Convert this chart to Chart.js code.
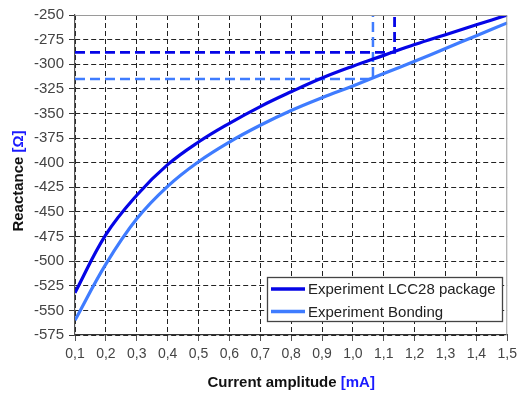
<!DOCTYPE html>
<html>
<head>
<meta charset="utf-8">
<script src="https://cdn.jsdelivr.net/npm/chart.js@4"></script>
<style>
  html, body { margin: 0; padding: 0; background: #fff; }
  #wrap { width: 522px; height: 394px; position: relative; }
</style>
</head>
<body>
<div id="wrap"><canvas id="chart" width="522" height="394"></canvas></div>
<script>
// data
const current = [0.1, 0.2, 0.3, 0.4, 0.5, 0.6, 0.7, 0.8, 0.9, 1.0, 1.1, 1.2, 1.3, 1.4, 1.5];
const lccPackage = [-532, -473, -433, -402, -379, -360, -343, -328, -314, -302, -291, -280, -270, -260, -250];
const bonding = [-560, -503, -457, -424, -399, -379, -362, -347, -334, -322, -309.5, -297, -284, -271, -258];

// marker lines (current, reactance)
const lccMarkX = 1.135, lccMarkY = -288;
const bondMarkX = 1.065, bondMarkY = -315;

const xTicks = [0.1, 0.2, 0.3, 0.4, 0.5, 0.6, 0.7, 0.8, 0.9, 1.0, 1.1, 1.2, 1.3, 1.4, 1.5];
const yTicks = [-250, -275, -300, -325, -350, -375, -400, -425, -450, -475, -500, -525, -550, -575];

const seriesNames = ['Experiment LCC28 package', 'Experiment Bonding'];
const darkBlue = '#0505e6';
const lightBlue = '#3f7cff';
const fontFam = '"Liberation Sans", Arial, sans-serif';

const pts = (xs, ys) => xs.map((x, i) => ({ x: x, y: ys[i] }));

const axisTitles = {
  id: 'axisTitles',
  afterDraw(chart) {
    const ctx = chart.ctx;
    const a = chart.chartArea;
    ctx.save();
    // frame top/right
    ctx.strokeStyle = '#9a9a9a';
    ctx.lineWidth = 1;
    ctx.beginPath();
    ctx.moveTo(a.left, a.top + 0.5);
    ctx.lineTo(a.right - 0.5, a.top + 0.5);
    ctx.lineTo(a.right - 0.5, a.bottom);
    ctx.stroke();

    // x title
    ctx.font = 'bold 15px ' + fontFam;
    ctx.textBaseline = 'middle';
    const p1 = 'Current amplitude ', p2 = '[mA]';
    const w1 = ctx.measureText(p1).width, w2 = ctx.measureText(p2).width;
    let x0 = (a.left + a.right) / 2 - (w1 + w2) / 2;
    ctx.fillStyle = '#111';
    ctx.fillText(p1, x0, 383);
    ctx.fillStyle = '#1a1aff';
    ctx.fillText(p2, x0 + w1, 383);

    // y title
    ctx.translate(19, 181);
    ctx.rotate(-Math.PI / 2);
    const q1 = 'Reactance ', q2 = '[Ω]';
    const v1 = ctx.measureText(q1).width, v2 = ctx.measureText(q2).width;
    const y0 = -(v1 + v2) / 2;
    ctx.fillStyle = '#111';
    ctx.fillText(q1, y0, 0);
    ctx.fillStyle = '#1a1aff';
    ctx.fillText(q2, y0 + v1, 0);
    ctx.restore();

    // legend box
    ctx.save();
    const bx = 267.5, by = 277.5, bw = 235, bh = 44;
    ctx.fillStyle = '#fff';
    ctx.fillRect(bx, by, bw, bh);
    ctx.strokeStyle = '#444';
    ctx.lineWidth = 1.3;
    ctx.strokeRect(bx, by, bw, bh);
    const cols = [darkBlue, lightBlue];
    ctx.font = '15px ' + fontFam;
    ctx.textBaseline = 'middle';
    seriesNames.forEach((name, i) => {
      const ly = 289 + i * 22.5;
      ctx.strokeStyle = cols[i];
      ctx.lineWidth = 3.5;
      ctx.beginPath();
      ctx.moveTo(271, ly);
      ctx.lineTo(305, ly);
      ctx.stroke();
      ctx.fillStyle = '#222';
      ctx.fillText(name, 308, ly + 1);
    });
    ctx.restore();
  }
};

new Chart(document.getElementById('chart'), {
  type: 'line',
  data: {
    datasets: [
      {
        label: 'guide bonding',
        data: [{ x: 0.1, y: bondMarkY }, { x: bondMarkX, y: bondMarkY }, { x: bondMarkX, y: -250 }],
        borderColor: lightBlue, borderWidth: 2.5, borderDash: [10, 5],
        pointRadius: 0, tension: 0, order: 3
      },
      {
        label: 'guide lcc',
        data: [{ x: 0.1, y: lccMarkY }, { x: lccMarkX, y: lccMarkY }, { x: lccMarkX, y: -250 }],
        borderColor: darkBlue, borderWidth: 2.8, borderDash: [10, 5],
        pointRadius: 0, tension: 0, order: 3
      },
      {
        label: seriesNames[1],
        data: pts(current, bonding),
        borderColor: lightBlue, borderWidth: 3.2,
        pointRadius: 0, tension: 0.4, order: 2
      },
      {
        label: seriesNames[0],
        data: pts(current, lccPackage),
        borderColor: darkBlue, borderWidth: 3.2,
        pointRadius: 0, tension: 0.4, order: 1
      }
    ]
  },
  options: {
    responsive: false,
    animation: false,
    layout: { padding: { top: 15, right: 11, left: 0, bottom: 0 } },
    plugins: { legend: { display: false }, tooltip: { enabled: false } },
    scales: {
      x: {
        type: 'linear', min: 0.1, max: 1.5,
        afterBuildTicks: s => { s.ticks = xTicks.map(v => ({ value: v })); },
        afterFit: s => { s.height = 59; },
        ticks: {
          autoSkip: false, maxRotation: 0, padding: 5,
          color: '#444', font: { size: 14, family: fontFam },
          callback: v => v.toFixed(1).replace('.', ',')
        },
        grid: {
          color: ctx => (ctx.tick && ctx.tick.value >= 1.5) ? 'rgba(0,0,0,0)' : '#222',
          lineWidth: 1, tickLength: 6, tickColor: '#333', tickBorderDash: [1, 0]
        },
        border: { color: '#333', width: 1.2, dash: [5, 3] }
      },
      y: {
        min: -575, max: -250,
        afterBuildTicks: s => { s.ticks = yTicks.map(v => ({ value: v })); },
        afterFit: s => { s.width = 75; },
        ticks: {
          autoSkip: false, padding: 5,
          color: '#444', font: { size: 15, family: fontFam }
        },
        grid: {
          color: ctx => (ctx.tick && ctx.tick.value >= -250) ? 'rgba(0,0,0,0)' : '#222',
          lineWidth: 1, tickLength: 6, tickColor: '#333', tickBorderDash: [1, 0]
        },
        border: { color: '#555', width: 1.2, dash: [5, 3] }
      }
    }
  },
  plugins: [axisTitles]
});
</script>
</body>
</html>
